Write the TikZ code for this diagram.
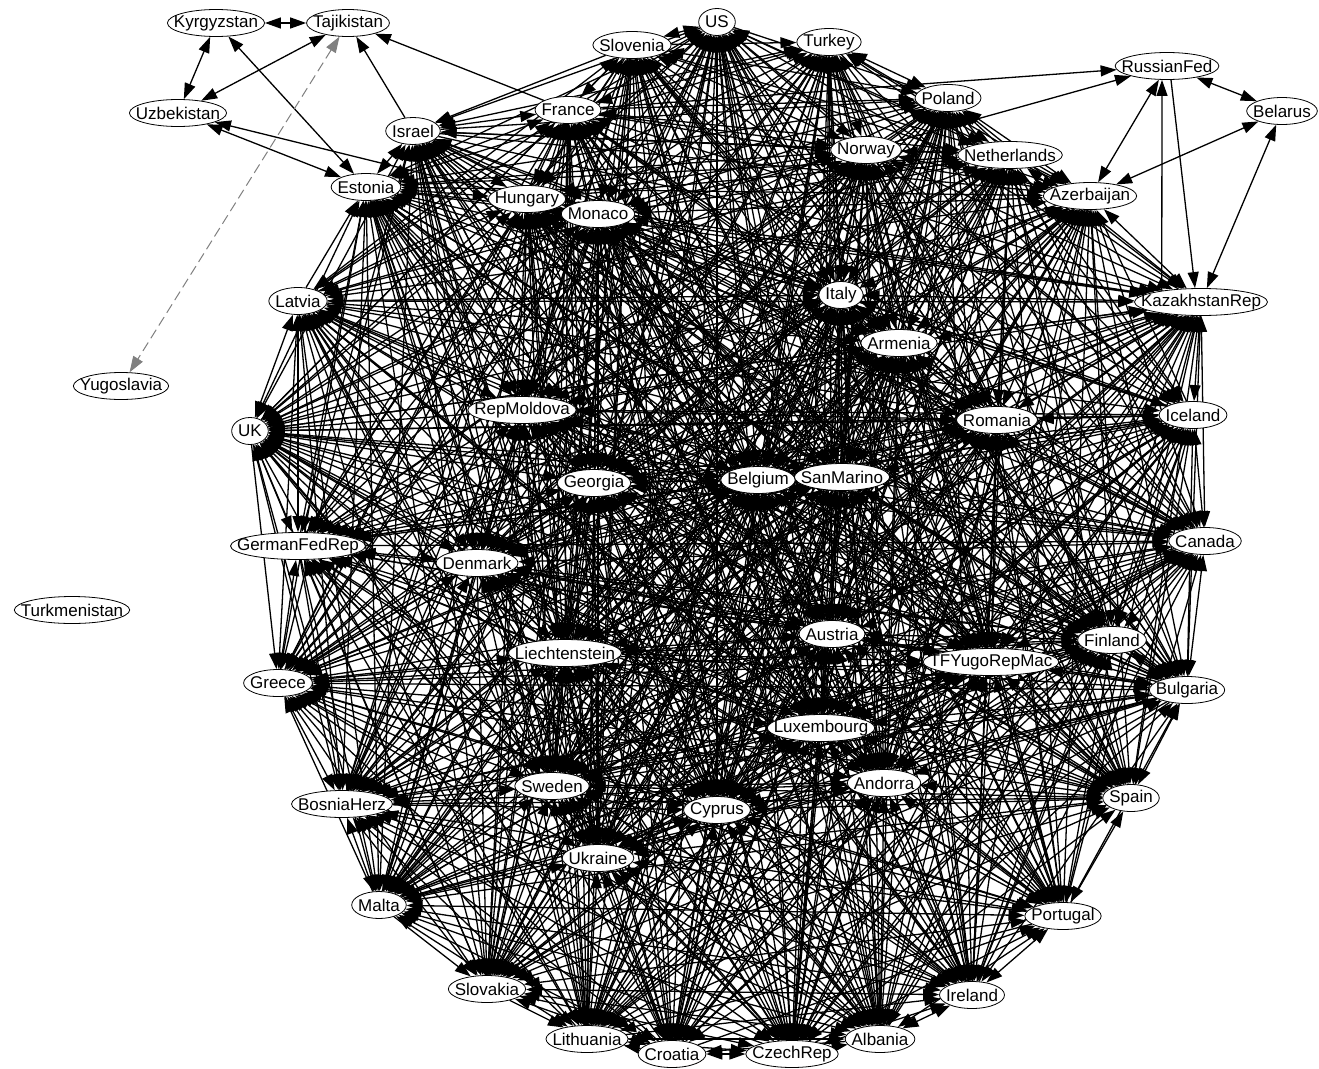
\documentclass[tikz,border=0pt]{standalone}
\usepackage{fontspec}
\setmainfont{Liberation Sans}[Scale=1.7]
\usetikzlibrary{arrows.meta,shapes.geometric,backgrounds}
\newcommand\cn[2]{\node[nd,minimum width=\csname cw#1\endcsname] (#1) at (#2) {#1};}
\tikzset{
  nd/.style={ellipse,draw,fill=white,line width=0.8pt,inner xsep=-40pt,inner ysep=-20pt,minimum height=27pt},
  ed/.style={line width=1.3pt,black},
  gl/.style={line width=1pt,gray,dash pattern=on 10pt off 5pt},
  >={Triangle[length=16pt,width=11pt]}
}
\def\clist{US,Slovenia,Turkey,France,Israel,Poland,Norway,Netherlands,Estonia,Hungary,Monaco,Azerbaijan,Latvia,Italy,KazakhstanRep,Armenia,UK,RepMoldova,Romania,Iceland,Georgia,Belgium,SanMarino,GermanFedRep,Denmark,Canada,Liechtenstein,Austria,TFYugoRepMac,Finland,Greece,Bulgaria,Luxembourg,Sweden,Andorra,BosniaHerz,Cyprus,Spain,Ukraine,Malta,Portugal,Slovakia,Ireland,Lithuania,Croatia,CzechRep,Albania}
\def\olist{Kyrgyzstan,Tajikistan,Uzbekistan,Yugoslavia,Turkmenistan,RussianFed,Belarus}
\begin{document}
\foreach \n in \clist {\setbox0=\hbox{\n}\expandafter\xdef\csname cw\n\endcsname{\the\dimexpr\wd0+13pt\relax}}%
\foreach \n in \olist {\setbox0=\hbox{\n}\expandafter\xdef\csname cw\n\endcsname{\the\dimexpr\wd0+13pt\relax}}%
\begin{tikzpicture}[x=1pt,y=-1pt]
\useasboundingbox (0,0) rectangle (1319,1068);
% outer nodes
\cn{Kyrgyzstan}{216,23}
\cn{Tajikistan}{348,23}
\cn{Uzbekistan}{178,113}
\cn{Yugoslavia}{121,386}
\cn{Turkmenistan}{72,610}
\cn{RussianFed}{1167,66}
\cn{Belarus}{1282,111}
% cluster nodes
\cn{US}{717,22}
\cn{Slovenia}{632,45}
\cn{Turkey}{829,42}
\cn{France}{568,110}
\cn{Israel}{413,131}
\cn{Poland}{948,98}
\cn{Norway}{866,150}
\cn{Netherlands}{1010,155}
\cn{Estonia}{366,187}
\cn{Hungary}{527,199}
\cn{Monaco}{598,214}
\cn{Azerbaijan}{1090,196}
\cn{Latvia}{298,301}
\cn{Italy}{841,295}
\cn{KazakhstanRep}{1201,302}
\cn{Armenia}{899,343}
\cn{UK}{250,431}
\cn{RepMoldova}{522,410}
\cn{Romania}{997,420}
\cn{Iceland}{1193,415}
\cn{Georgia}{594,483}
\cn{Belgium}{758,480}
\cn{SanMarino}{842,477}
\cn{GermanFedRep}{298,546}
\cn{Denmark}{477,563}
\cn{Canada}{1205,541}
\cn{Liechtenstein}{565,653}
\cn{Austria}{832,634}
\cn{TFYugoRepMac}{991,662}
\cn{Finland}{1112,640}
\cn{Greece}{278,683}
\cn{Bulgaria}{1187,690}
\cn{Luxembourg}{821,728}
\cn{Sweden}{552,786}
\cn{Andorra}{884,783}
\cn{BosniaHerz}{342,804}
\cn{Cyprus}{717,810}
\cn{Spain}{1131,798}
\cn{Ukraine}{598,858}
\cn{Malta}{379,905}
\cn{Portugal}{1063,916}
\cn{Slovakia}{487,989}
\cn{Ireland}{972,995}
\cn{Lithuania}{587,1039}
\cn{Croatia}{672,1054}
\cn{CzechRep}{792,1054}
\cn{Albania}{880,1039}
\begin{pgfonlayer}{background}
\fill[white] (0,0) rectangle (1319,1068);
\pgfmathsetseed{4711}
\foreach \a [count=\i] in \clist {
  \foreach \b [count=\j] in \clist {
    \ifnum\j>\i
      \pgfmathrandominteger{\rr}{0}{99}
      \ifnum\rr<5 \else
        \ifnum\rr<65 \draw[ed,<->] (\a) -- (\b);
        \else\ifnum\rr<82 \draw[ed,->] (\a) -- (\b);
        \else \draw[ed,<-] (\a) -- (\b);
        \fi\fi
      \fi
    \fi
  }
}
% outer connectors
\draw[ed,<->] (Kyrgyzstan) -- (Tajikistan);
\draw[ed,<->] (Kyrgyzstan) -- (Uzbekistan);
\draw[ed,<->] (Tajikistan) -- (Uzbekistan);
\draw[ed,<->] (Kyrgyzstan) -- (Estonia);
\draw[ed,->] (Hungary) -- (Uzbekistan);
\draw[ed,<->] (Uzbekistan) -- (Estonia);
\draw[ed,->] (Israel) -- (Tajikistan);
\draw[ed,->] (France) -- (Tajikistan);
\draw[gl,<->] (Tajikistan) -- (Yugoslavia);
\draw[ed,->] (France) -- (RussianFed);
\draw[ed,->] (Norway) -- (RussianFed);
\draw[ed,<->] (RussianFed) -- (Azerbaijan);
\draw[ed,<->] (RussianFed) -- (Belarus);
\draw[ed,->] ([xshift=4pt]RussianFed.south) -- ([xshift=-6pt]KazakhstanRep.north);
\draw[ed,->] (KazakhstanRep.164) -- ([xshift=-5pt]RussianFed.south);
\draw[ed,<->] (Belarus) -- (KazakhstanRep);
\draw[ed,<->] (Azerbaijan) -- (Belarus);
\end{pgfonlayer}
\end{tikzpicture}
\end{document}
